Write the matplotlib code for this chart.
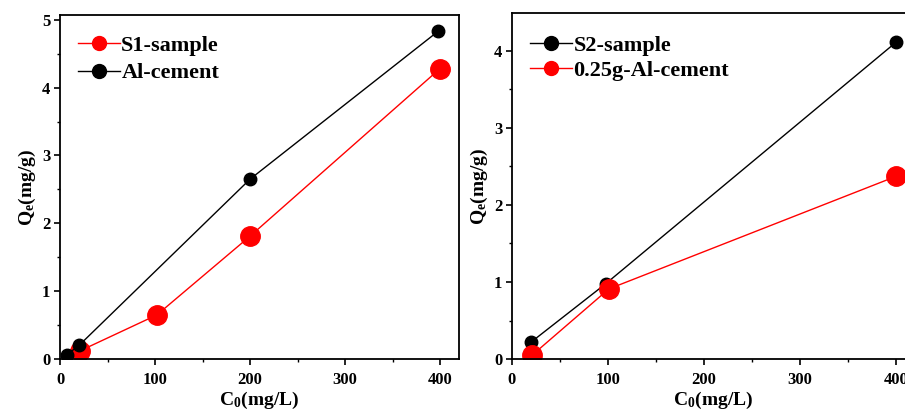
import matplotlib
matplotlib.use("Agg")
import matplotlib.pyplot as plt
from matplotlib.ticker import MultipleLocator

plt.rcParams['font.family'] = 'Liberation Serif'
plt.rcParams['font.weight'] = 'bold'
plt.rcParams['mathtext.fontset'] = 'custom'
plt.rcParams['mathtext.rm'] = 'Liberation Serif:bold'
plt.rcParams['mathtext.bf'] = 'Liberation Serif:bold'
plt.rcParams['mathtext.it'] = 'Liberation Serif:bold'

# left panel
s1_x = [21, 102, 200, 400]
s1_y = [0.12, 0.65, 1.81, 4.28]
al_x = [7, 20, 200, 398]
al_y = [0.06, 0.20, 2.65, 4.83]

# right panel
s2_x = [20, 98, 400]
s2_y = [0.22, 0.98, 4.11]
al25_x = [21, 101, 400]
al25_y = [0.05, 0.91, 2.37]

x_ticks = [0, 100, 200, 300, 400]

fig = plt.figure(figsize=(9.05, 4.12), dpi=100)
ax1 = fig.add_axes([0.0663, 0.1286, 0.4409, 0.835])
ax2 = fig.add_axes([0.5657, 0.1286, 0.4453, 0.8394])


def style_axis(ax, ylim, ymaj):
	ax.set_xlim(0, 420)
	ax.set_ylim(0, ylim)
	ax.set_xticks(x_ticks)
	ax.yaxis.set_major_locator(MultipleLocator(ymaj))
	ax.xaxis.set_minor_locator(MultipleLocator(50))
	ax.yaxis.set_minor_locator(MultipleLocator(0.5))
	ax.tick_params(which='major', direction='out', length=4, width=1.2, labelsize=12)
	ax.tick_params(axis='x', which='major', pad=5)
	ax.tick_params(axis='y', which='major', pad=3)
	ax.tick_params(which='minor', direction='out', length=2.5, width=1.0)
	for sp in ax.spines.values():
		sp.set_linewidth(1.3)
	for lab in ax.get_xticklabels() + ax.get_yticklabels():
		lab.set_fontweight('bold')
	ax.set_xlabel(r'C$_\mathbf{0}$(mg/L)', fontsize=14, fontweight='bold', labelpad=2)
	ax.set_ylabel(r'Q$_\mathbf{e}$(mg/g)', fontsize=14, fontweight='bold', labelpad=3)


leg_opts = dict(loc='upper left', frameon=False, prop={'weight': 'bold', 'size': 16},
	handlelength=1.9, handletextpad=0.05, borderpad=0, borderaxespad=0)

ax1.plot(s1_x, s1_y, '-o', color='red', lw=1.0, ms=14, label='S1-sample')
ax1.plot(al_x, al_y, '-o', color='black', lw=1.0, ms=9, label='Al-cement')
style_axis(ax1, 5.07, 1)
leg = ax1.legend(bbox_to_anchor=(0.045, 0.94), labelspacing=0.3, **leg_opts)
for h in leg.legend_handles:
	h.set_markersize(10)

ax2.plot(s2_x, s2_y, '-o', color='black', lw=1.0, ms=9, label='S2-sample')
ax2.plot(al25_x, al25_y, '-o', color='red', lw=1.0, ms=14, label='0.25g-Al-cement')
style_axis(ax2, 4.49, 1)
leg2 = ax2.legend(bbox_to_anchor=(0.045, 0.935), labelspacing=0.2, **leg_opts)
for h in leg2.legend_handles:
	h.set_markersize(10)

fig.savefig('out.png', dpi=100)
